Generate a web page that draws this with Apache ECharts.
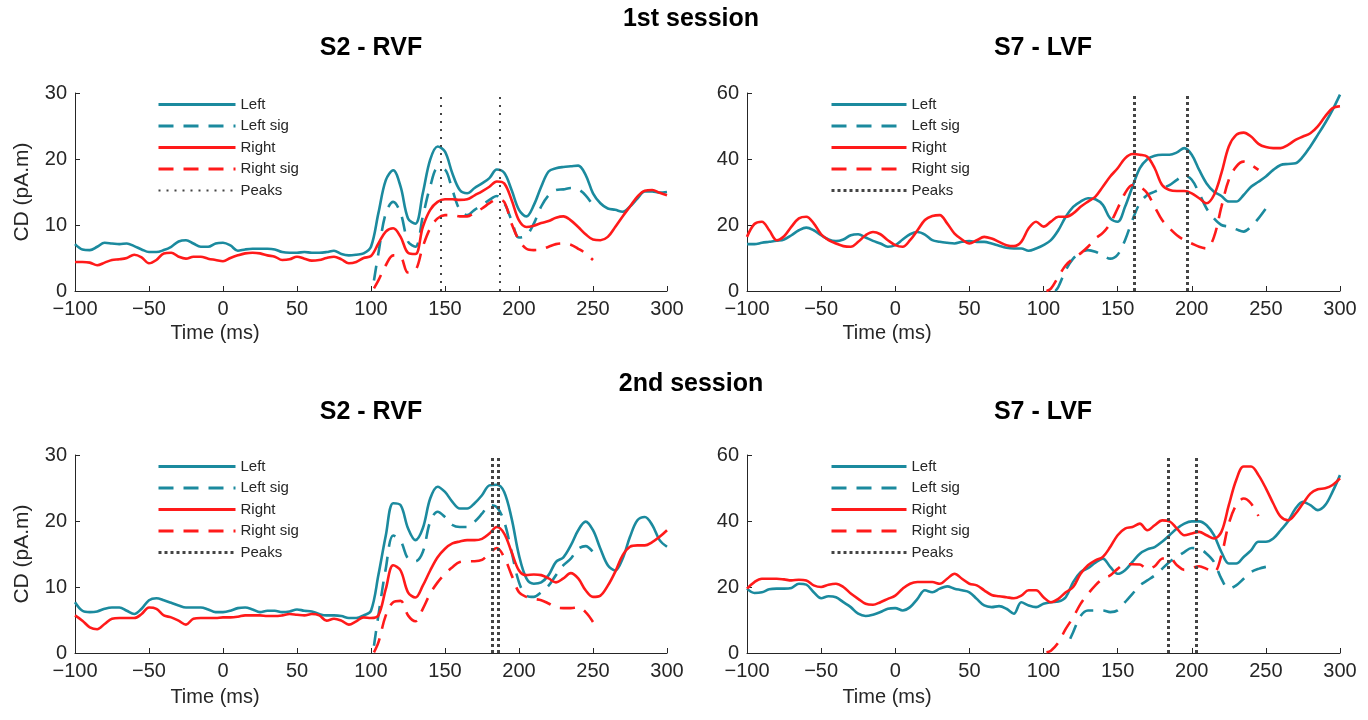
<!DOCTYPE html>
<html>
<head>
<meta charset="utf-8">
<script src="https://cdn.jsdelivr.net/npm/echarts@6/dist/echarts.min.js"></script>
<style>
html,body{margin:0;padding:0;background:#fff;}
#chart{width:1368px;height:720px;}
</style>
</head>
<body>
<div id="chart"></div>
<script>
// ---------- DATA ----------
const TIME = [-100,-95,-90,-85,-80,-75,-70,-65,-60,-55,-50,-45,-40,-35,-30,-25,-20,-15,-10,-5,
  0,5,10,15,20,25,30,35,40,45,50,55,60,65,70,75,80,85,90,95,
  100,105,110,115,120,125,130,135,140,145,150,155,160,165,170,175,180,185,190,195,
  200,205,210,215,220,225,230,235,240,245,250,255,260,265,270,275,280,285,290,295,300];
const SIG_T_102_250 = [102,105,110,115,120,125,130,135,140,145,150,155,160,165,170,175,180,185,190,195,200,205,210,215,220,225,230,235,240,245,250];
const SIG_T_102_245 = [102,105,110,115,120,125,130,135,140,145,150,155,160,165,170,175,180,185,190,195,200,205,210,215,220,225,230,235,240,245];
const SIG_T_108_250 = [108,110,115,120,125,130,135,140,145,150,155,160,165,170,175,180,185,190,195,200,205,210,215,220,225,230,235,240,245,250];
const SIG_T_118_250 = [118,120,125,130,135,140,145,150,155,160,165,170,175,180,185,190,195,200,205,210,215,220,225,230,235,240,245,250];

// Session 1, S2 - RVF
const s1S2Left = [7.1,6.3,6.2,6.7,7.3,7.2,7.1,7.2,6.8,6.3,5.9,5.9,6.2,6.7,7.5,7.7,7.2,6.7,6.7,7.2,
  7.3,6.9,6.1,6.3,6.4,6.4,6.4,6.3,5.9,5.8,5.8,5.9,5.8,5.8,5.9,6.1,5.6,5.4,5.5,5.7,
  6.7,11.8,16.8,18.3,15.8,11.0,10.2,14.8,19.9,21.9,21.1,17.8,15.3,14.8,15.6,16.3,17.1,18.4,17.9,15.3,
  12.3,11.3,13.0,15.8,18.1,18.6,18.8,18.9,19.0,17.6,14.8,13.3,12.5,12.3,12.0,12.8,14.0,15.1,15.1,14.9,15.0];
const s1S2Right = [4.4,4.4,4.3,3.9,4.3,4.7,4.8,5.0,5.5,5.1,4.2,4.7,5.7,5.8,5.2,4.9,5.2,5.2,4.9,4.7,
  4.5,5.0,5.4,5.7,5.8,5.7,5.4,5.2,4.7,4.8,5.2,4.9,4.6,4.7,5.0,5.2,4.8,4.2,4.4,5.0,
  5.3,7.2,9.0,9.5,8.2,5.8,5.6,9.7,12.3,13.5,13.9,13.9,13.8,13.9,14.5,15.1,15.8,16.6,16.3,13.8,
  10.7,9.7,9.9,10.3,10.6,11.1,11.3,10.7,9.7,8.6,7.8,7.7,8.2,9.7,11.3,12.8,14.3,15.2,15.3,14.9,14.5];
const s1S2LeftSig = [1.6,5.7,11.8,13.5,11.8,7.5,6.7,11.3,15.8,18.6,18.4,15.3,12.3,11.5,12.3,13.0,13.8,14.4,13.3,10.7,
  8.1,8.4,10.2,12.8,14.5,15.3,15.4,15.6,15.4,14.5,13.0];
const s1S2RightSig = [0.4,1.6,3.9,5.4,5.2,2.8,3.1,6.7,9.5,11.0,11.5,11.5,11.3,11.3,11.9,12.5,13.3,13.9,13.5,10.2,
  7.7,6.4,6.2,6.3,6.7,7.1,7.2,7.0,6.4,5.7,4.7];
const s1S2Peaks = [147,187];

// Session 1, S7 - LVF
const s1S7Left = [14.2,14.2,14.6,14.9,15.2,15.6,16.9,18.4,19.2,18.4,16.9,15.6,15.1,15.6,16.9,17.2,16.2,15.2,14.4,13.4,
  13.9,15.6,17.2,17.9,17.1,15.4,14.9,14.6,14.4,14.9,15.1,14.9,14.9,14.4,13.7,13.1,12.9,12.9,12.2,12.9,
  13.9,15.4,18.4,22.5,25.5,27.1,28.1,27.8,26.1,22.0,21.0,25.5,31.6,37.2,39.9,41.0,41.3,41.3,42.0,43.3,
  41.3,36.7,32.6,30.1,28.8,27.1,27.1,29.1,31.6,33.1,34.7,36.7,38.2,38.5,38.7,40.7,43.8,47.3,50.9,54.9,59.5];
const s1S7Right = [16.4,20.3,21.0,18.4,15.4,16.6,19.5,22.0,22.5,20.5,17.2,15.4,14.4,13.6,13.4,14.9,16.9,17.9,17.2,15.4,
  13.9,13.4,15.4,18.4,21.5,22.7,23.0,20.5,17.4,15.6,14.4,15.4,16.4,15.9,14.9,13.9,13.6,14.9,19.0,21.0,
  19.5,21.0,22.5,22.5,23.5,25.5,27.1,28.6,31.6,34.7,37.2,40.2,41.5,41.3,40.7,37.2,32.1,30.6,30.3,30.3,
  29.6,28.1,26.6,29.1,35.7,43.8,47.3,48.0,46.8,44.6,43.6,43.3,43.3,44.3,45.8,46.8,47.8,49.9,52.9,55.4,56.0];
const s1S7LeftSig = [0,1.2,6.3,9.8,11.6,12.4,11.9,10.8,9.8,11.0,15.4,21.5,26.6,29.1,30.1,31.1,32.1,33.7,35.0,33.7,
  29.6,25.0,22.0,20.0,19.5,18.7,18.0,19.5,22.0,25.0];
const s1S7RightSig = [0,0.7,4.3,7.8,9.8,11.4,13.4,15.9,17.6,20.5,25.0,29.6,32.1,31.6,29.6,25.5,21.5,19.0,16.9,15.4,
  14.4,13.4,12.9,16.4,25.5,33.7,37.7,39.2,38.2,36.7];
const s1S7Peaks = [161,197];

// Session 2, S2 - RVF
const s2S2Left = [7.7,6.4,6.2,6.3,6.7,6.9,6.9,6.4,5.9,6.7,8.0,8.3,8.0,7.6,7.2,6.9,6.9,6.9,6.6,6.2,
  6.2,6.4,6.8,6.9,6.6,6.2,6.4,6.4,6.2,6.3,6.6,6.4,6.3,5.9,5.7,5.7,5.6,5.3,5.3,5.7,
  6.4,11.8,17.8,22.7,22.4,18.9,17.1,18.9,23.4,25.2,24.4,22.9,21.9,21.9,22.7,23.9,25.4,25.5,24.4,20.4,
  14.8,11.3,10.5,10.7,11.8,13.8,14.5,16.3,18.6,19.9,18.6,15.8,13.3,12.5,14.3,17.6,20.1,20.6,19.4,17.1,16.1];
const s2S2Right = [5.7,4.9,3.9,3.6,4.4,5.2,5.3,5.3,5.3,5.9,6.9,6.7,5.7,5.4,4.9,4.3,5.2,5.3,5.3,5.3,
  5.4,5.4,5.5,5.7,5.7,5.7,5.6,5.6,5.7,5.9,5.8,5.7,5.9,5.7,4.9,5.2,4.9,4.3,4.8,5.4,
  5.3,5.7,9.7,13.3,12.5,9.2,8.4,10.2,12.5,14.5,15.8,16.6,16.9,17.1,17.1,17.3,18.1,19.1,18.1,15.3,
  12.5,11.8,11.9,11.8,11.3,10.7,11.3,12.1,11.3,9.5,8.5,8.7,10.2,12.3,14.8,16.1,16.3,16.3,16.8,17.6,18.6];
const s2S2LeftSig = [1.1,5.7,12.8,17.8,17.0,14.3,13.9,15.3,19.9,21.4,20.6,19.4,19.1,19.1,19.9,21.1,22.4,22.1,19.9,15.3,
  10.7,8.7,8.5,9.2,10.2,11.8,13.3,14.3,15.8,16.2,15.3];
const s2S2RightSig = [0.1,1.6,5.7,7.7,7.9,5.7,4.8,6.7,9.0,10.7,12.0,13.0,13.8,13.9,13.9,14.1,15.1,15.9,14.5,11.8,
  9.2,8.5,8.2,8.0,7.5,6.9,6.8,6.8,6.9,6.2,4.7];
const s2S2Peaks = [182,186];

// Session 2, S7 - LVF
const s2S7Left = [19.5,18.2,18.4,19.3,19.5,19.5,19.7,21.0,20.7,18.4,16.6,17.2,16.9,15.4,13.9,11.9,11.2,11.6,12.4,13.4,
  13.6,12.9,13.9,16.4,19.0,18.4,19.5,20.2,19.5,19.0,18.4,16.4,14.4,13.9,14.2,13.4,11.9,15.4,14.4,13.9,
  14.9,15.4,15.6,16.9,21.5,24.5,25.7,27.4,28.6,26.1,24.0,25.1,27.6,30.1,31.4,32.1,33.7,35.7,37.7,39.2,
  39.9,39.9,38.7,35.7,30.6,27.1,27.1,29.1,31.1,33.7,33.7,34.7,37.2,39.9,43.8,45.8,44.8,43.3,44.8,48.9,53.9];
const s2S7Right = [19.5,21.5,22.5,22.5,22.5,22.3,22.0,22.2,22.0,20.5,20.0,20.7,21.0,20.0,18.0,16.4,14.9,14.6,15.4,16.4,
  17.4,19.5,21.0,21.5,21.5,21.5,21.0,22.5,24.0,22.5,21.0,20.5,19.0,17.6,17.2,16.9,16.6,17.4,19.0,19.0,
  16.9,15.4,16.4,18.4,20.0,24.0,26.6,28.1,29.1,32.1,35.7,37.7,38.2,39.2,37.2,38.7,40.2,39.9,37.7,35.7,
  36.2,36.7,35.7,34.7,36.7,44.8,52.4,56.5,56.5,53.9,49.9,45.3,41.3,40.2,42.2,45.3,48.3,49.6,49.9,50.9,52.9];
const s2S7LeftSig = [4.3,6.3,11.2,12.9,12.9,12.9,12.4,12.9,15.4,17.9,20.5,22.0,23.5,25.5,27.6,29.1,30.6,31.8,31.6,30.1,
  27.6,22.5,19.5,20.5,22.5,24.5,25.5,26.1];
const s2S7RightSig = [0.2,0.7,3.2,7.3,10.8,14.9,17.9,20.5,22.5,23.5,25.5,26.9,26.9,26.8,25.5,26.3,28.6,28.8,26.6,25.2,
  25.7,26.3,25.5,24.5,29.6,39.2,44.8,46.8,45.3,41.5];
const s2S7Peaks = [184,203];

const SERIES_NAMES = ['Left','Left sig','Right','Right sig','Peaks'];
const PANEL_TITLES = ['S2 - RVF','S7 - LVF'];
const SESSION_TITLES = ['1st session','2nd session'];
const X_NAME = 'Time (ms)';
const Y_NAME = 'CD (pA.m)';

// ---------- STYLE ----------
const TEAL = '#1b8a9e';
const RED = '#ff1a1a';
const PEAK = '#444444';
const FONT = "'Liberation Sans', Arial, Helvetica, sans-serif";
const AXC = '#262626';

function zip(t, v){ return t.map((x,i)=>[x, v[i]]); }
function minus(v){ return String(v).replace('-', '\u2212'); }

const panels = [
  {left:75, top:93, width:592, height:198, ymax:30, yint:10, yname:true,
   left1:s1S2Left, right1:s1S2Right, lsig:zip(SIG_T_102_250,s1S2LeftSig), rsig:zip(SIG_T_102_250,s1S2RightSig), peaks:s1S2Peaks,
   legLeft:157, legTop:97, legW:77, peakW:2, peakDash:[2,6]},
  {left:747, top:93, width:593, height:198, ymax:60, yint:20, yname:false,
   left1:s1S7Left, right1:s1S7Right, lsig:zip(SIG_T_108_250,s1S7LeftSig), rsig:zip(SIG_T_102_245,s1S7RightSig), peaks:s1S7Peaks,
   legLeft:830, legTop:97, legW:75, peakW:3, peakDash:[3,3]},
  {left:75, top:455, width:592, height:198, ymax:30, yint:10, yname:true,
   left1:s2S2Left, right1:s2S2Right, lsig:zip(SIG_T_102_250,s2S2LeftSig), rsig:zip(SIG_T_102_250,s2S2RightSig), peaks:s2S2Peaks,
   legLeft:157, legTop:459, legW:77, peakW:3, peakDash:[3,3]},
  {left:747, top:455, width:593, height:198, ymax:60, yint:20, yname:false,
   left1:s2S7Left, right1:s2S7Right, lsig:zip(SIG_T_118_250,s2S7LeftSig), rsig:zip(SIG_T_102_245,s2S7RightSig), peaks:s2S7Peaks,
   legLeft:830, legTop:459, legW:75, peakW:3, peakDash:[3,3]}
];

const grid=[], xAxis=[], yAxis=[], series=[], legend=[];
panels.forEach((p,i)=>{
  grid.push({left:p.left, top:p.top, width:p.width, height:p.height, containLabel:false});
  xAxis.push({type:'value', gridIndex:i, min:-100, max:300, interval:50,
    axisLine:{show:true, onZero:false, lineStyle:{color:AXC, width:1}},
    axisTick:{show:true, inside:true, length:5, lineStyle:{color:AXC}},
    axisLabel:{color:AXC, fontSize:20, fontFamily:FONT, margin:8, formatter:minus},
    splitLine:{show:false}});
  yAxis.push({type:'value', gridIndex:i, min:0, max:p.ymax, interval:p.yint,
    name: p.yname ? Y_NAME : '', nameLocation:'middle', nameGap:42,
    nameTextStyle:{color:AXC, fontSize:21, fontFamily:FONT},
    axisLine:{show:true, onZero:false, lineStyle:{color:AXC, width:1}},
    axisTick:{show:true, inside:true, length:5, lineStyle:{color:AXC}},
    axisLabel:{color:AXC, fontSize:20, fontFamily:FONT, margin:8},
    splitLine:{show:false}});
  const sfx = '#'+i;
  const common = {type:'line', xAxisIndex:i, yAxisIndex:i, symbol:'none', showSymbol:false, smooth:0.35, animation:false, silent:true};
  series.push(Object.assign({}, common, {name:SERIES_NAMES[0]+sfx, data:zip(TIME,p.left1), lineStyle:{color:TEAL, width:2.6}, itemStyle:{color:TEAL}}));
  series.push(Object.assign({}, common, {name:SERIES_NAMES[1]+sfx, data:p.lsig, lineStyle:{color:TEAL, width:2.6, type:[15,10]}, itemStyle:{color:TEAL}}));
  series.push(Object.assign({}, common, {name:SERIES_NAMES[2]+sfx, data:zip(TIME,p.right1), lineStyle:{color:RED, width:2.6}, itemStyle:{color:RED}}));
  series.push(Object.assign({}, common, {name:SERIES_NAMES[3]+sfx, data:p.rsig, lineStyle:{color:RED, width:2.6, type:[15,10]}, itemStyle:{color:RED}}));
  series.push(Object.assign({}, common, {name:SERIES_NAMES[4]+sfx, data:[],
    lineStyle:{color:PEAK, width:p.peakW, type:p.peakDash}, itemStyle:{color:PEAK},
    markLine:{silent:true, symbol:['none','none'], animation:false, label:{show:false},
      lineStyle:{color:PEAK, width:p.peakW, type:p.peakDash},
      emphasis:{disabled:true},
      data:p.peaks.map(x=>({xAxis:x}))}}));
  legend.push({orient:'vertical', left:p.legLeft, top:p.legTop, padding:0, itemGap:6.5,
    itemWidth:p.legW, itemHeight:14, selectedMode:false,
    textStyle:{color:AXC, fontSize:15, fontFamily:FONT, padding:[0,0,0,0]},
    formatter:(n)=>n.split('#')[0],
    itemStyle:{color:'rgba(0,0,0,0)', borderWidth:0, opacity:0},
    lineStyle:{width:3},
    data:SERIES_NAMES.map((n,k)=> k===4 ? {name:n+sfx, lineStyle:{width:p.peakW}} : {name:n+sfx})});
});

function txt(x,y,s,size,bold,color){
  return {type:'text', x:x, y:y, silent:true,
    style:{text:s, fill:color||'#000', font:(bold?'bold ':'')+size+'px '+FONT, textAlign:'center', textVerticalAlign:'middle'}};
}
const graphic = [
  txt(691,19,SESSION_TITLES[0],25,true),
  txt(371,48,PANEL_TITLES[0],25,true),
  txt(1043,48,PANEL_TITLES[1],25,true),
  txt(691,384,SESSION_TITLES[1],25,true),
  txt(371,412,PANEL_TITLES[0],25,true),
  txt(1043,412,PANEL_TITLES[1],25,true),
  txt(215,333,X_NAME,20,false,AXC),
  txt(887,333,X_NAME,20,false,AXC),
  txt(215,697,X_NAME,20,false,AXC),
  txt(887,697,X_NAME,20,false,AXC)
];

const chart = echarts.init(document.getElementById('chart'), null, {renderer:'canvas'});
chart.setOption({backgroundColor:'#fff', animation:false, grid, xAxis, yAxis, series, legend, graphic});
</script>
</body>
</html>
